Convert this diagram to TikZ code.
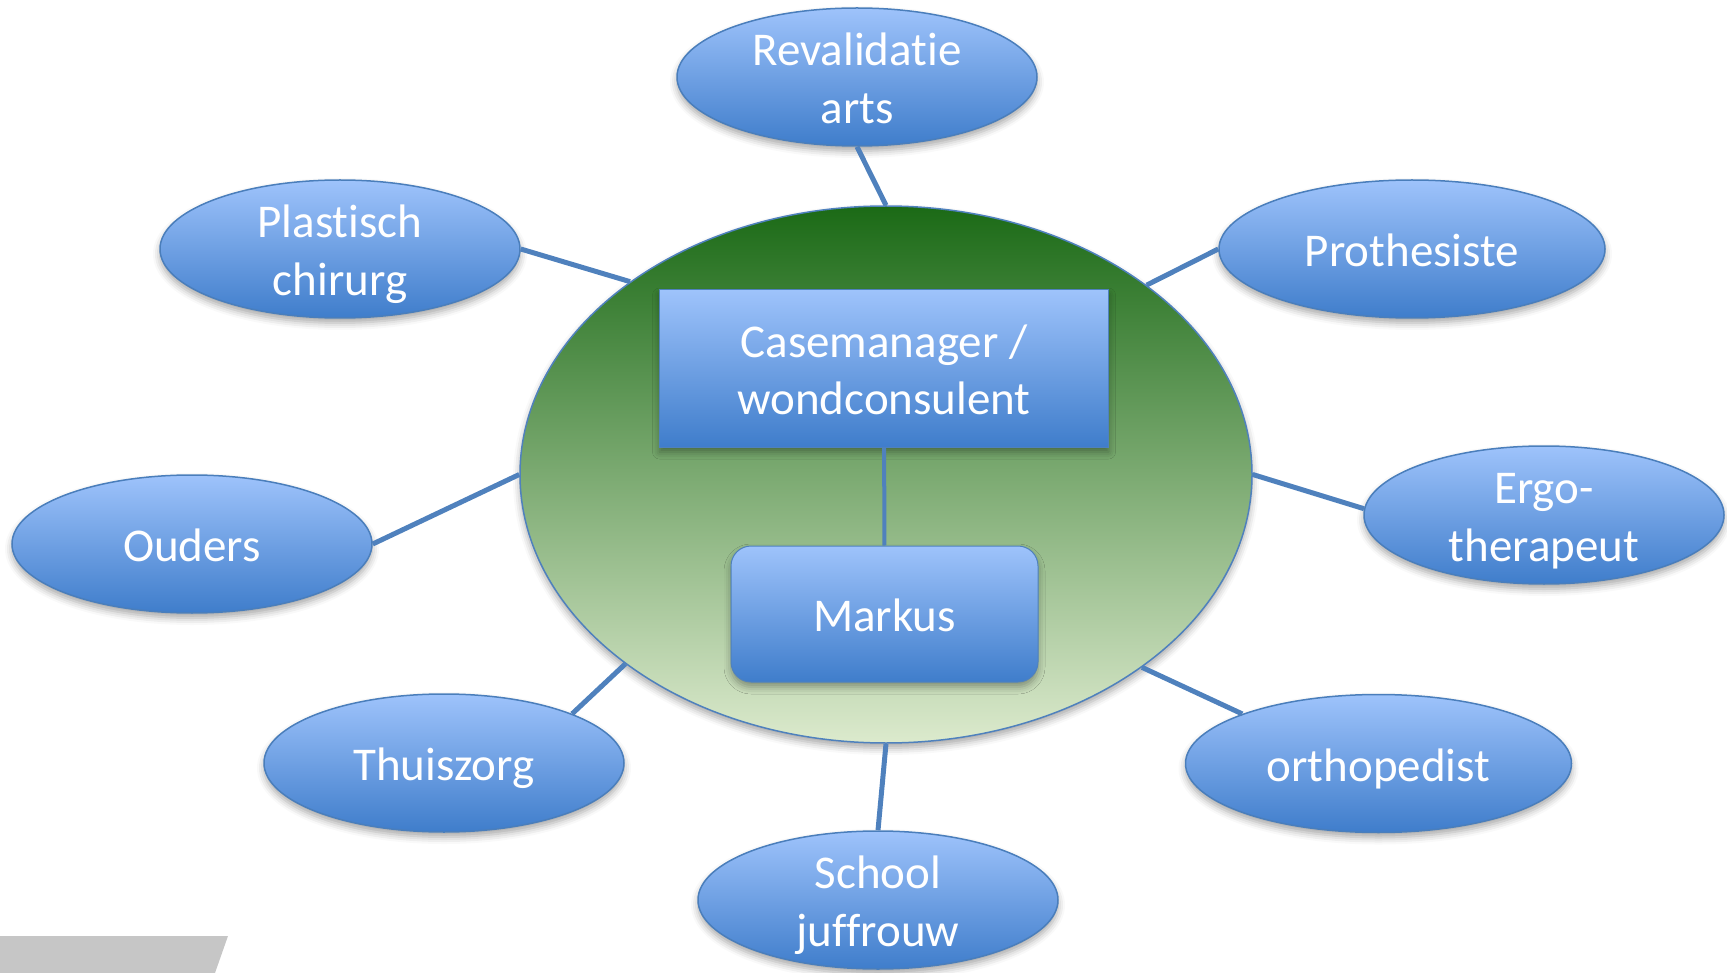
\documentclass[tikz,border=0pt]{standalone}
\usepackage{fontspec}
\setmainfont{Carlito}[Ligatures=NoCommon]
\usetikzlibrary{shapes.geometric,shadows.blur}
\definecolor{btop}{HTML}{9EC3FB}
\definecolor{bbot}{HTML}{3F7DCB}
\definecolor{bdraw}{HTML}{4A7EBB}
\definecolor{lnk}{HTML}{4F81BD}
\definecolor{gtop}{HTML}{1B6A16}
\definecolor{gmid}{HTML}{9DB873}
\definecolor{gbot}{HTML}{DCEACD}
\definecolor{greybar}{HTML}{C6C6C6}
\newcommand\tline[1]{\raisebox{0pt}[35pt][0pt]{#1}}
\begin{document}
\begin{tikzpicture}[x=1pt,y=-1pt,
  txt/.style={font=\fontsize{47}{57.5}\selectfont, text=white, align=center},
  shd/.style={blur shadow={shadow xshift=0pt, shadow yshift=-5pt, shadow blur radius=7pt, shadow opacity=35}},
  ell/.style={ellipse, draw=bdraw, line width=1.5pt, top color=btop, bottom color=bbot,
    minimum height=138pt, minimum width=360pt, inner sep=-30pt, txt, shd},
  wide/.style={minimum width=386pt},
  box/.style={rectangle, draw=lnk, line width=1pt, top color=btop, bottom color=bbot, txt, shd, inner sep=0pt},
  link/.style={draw=lnk, line width=5pt}]
\useasboundingbox (0,0) rectangle (1727,973);
\fill[greybar] (0,936) -- (228,936) -- (215,973) -- (0,973) -- cycle;

\node[ellipse, draw=lnk, line width=1.5pt, top color=gtop, middle color=gmid, bottom color=gbot,
  minimum width=732pt, minimum height=537pt, inner sep=0pt, shd] (big) at (886,474.5) {};
\node[box, minimum width=449pt, minimum height=157pt] (case) at (884,368.5) {\tline{Casemanager /}\\\tline{wondconsulent}};
\node[box, rounded corners=20pt, minimum width=307pt, minimum height=136pt] (markus) at (884.5,614) {\tline{Markus}};

\node[ell] (rev) at (857,77) {\tline{Revalidat\kern0pt ie}\\\tline{arts}};
\node[ell] (plast) at (340,249) {\tline{Plast\kern0pt isch}\\\tline{chirurg}};
\node[ell, wide] (proth) at (1412,249) {\tline{Prothesiste}};
\node[ell] (ergo) at (1544,515) {\tline{Ergo-}\\\tline{therapeut}};
\node[ell] (ouders) at (192,544) {\tline{Ouders}};
\node[ell] (thuis) at (444,763) {\tline{Thuiszorg}};
\node[ell, wide] (ortho) at (1378.5,763.5) {\tline{orthopedist}};
\node[ell] (school) at (878,900) {\tline{School}\\\tline{juffrouw}};

\draw[link, line width=4pt] (case) -- (markus);
\draw[link] (rev.south) -- (big.north);
\draw[link] (plast.east) -- (big.143.7);
\draw[link] (proth.west) -- (big.36.3);
\draw[link] (ergo.178) -- (big.east);
\draw[link] (ouders.east) -- (big.west);
\draw[link] (thuis.21) -- (big.216.3);
\draw[link] (ortho.160) -- (big.323.7);
\draw[link] (school.north) -- (big.south);
\end{tikzpicture}
\end{document}
